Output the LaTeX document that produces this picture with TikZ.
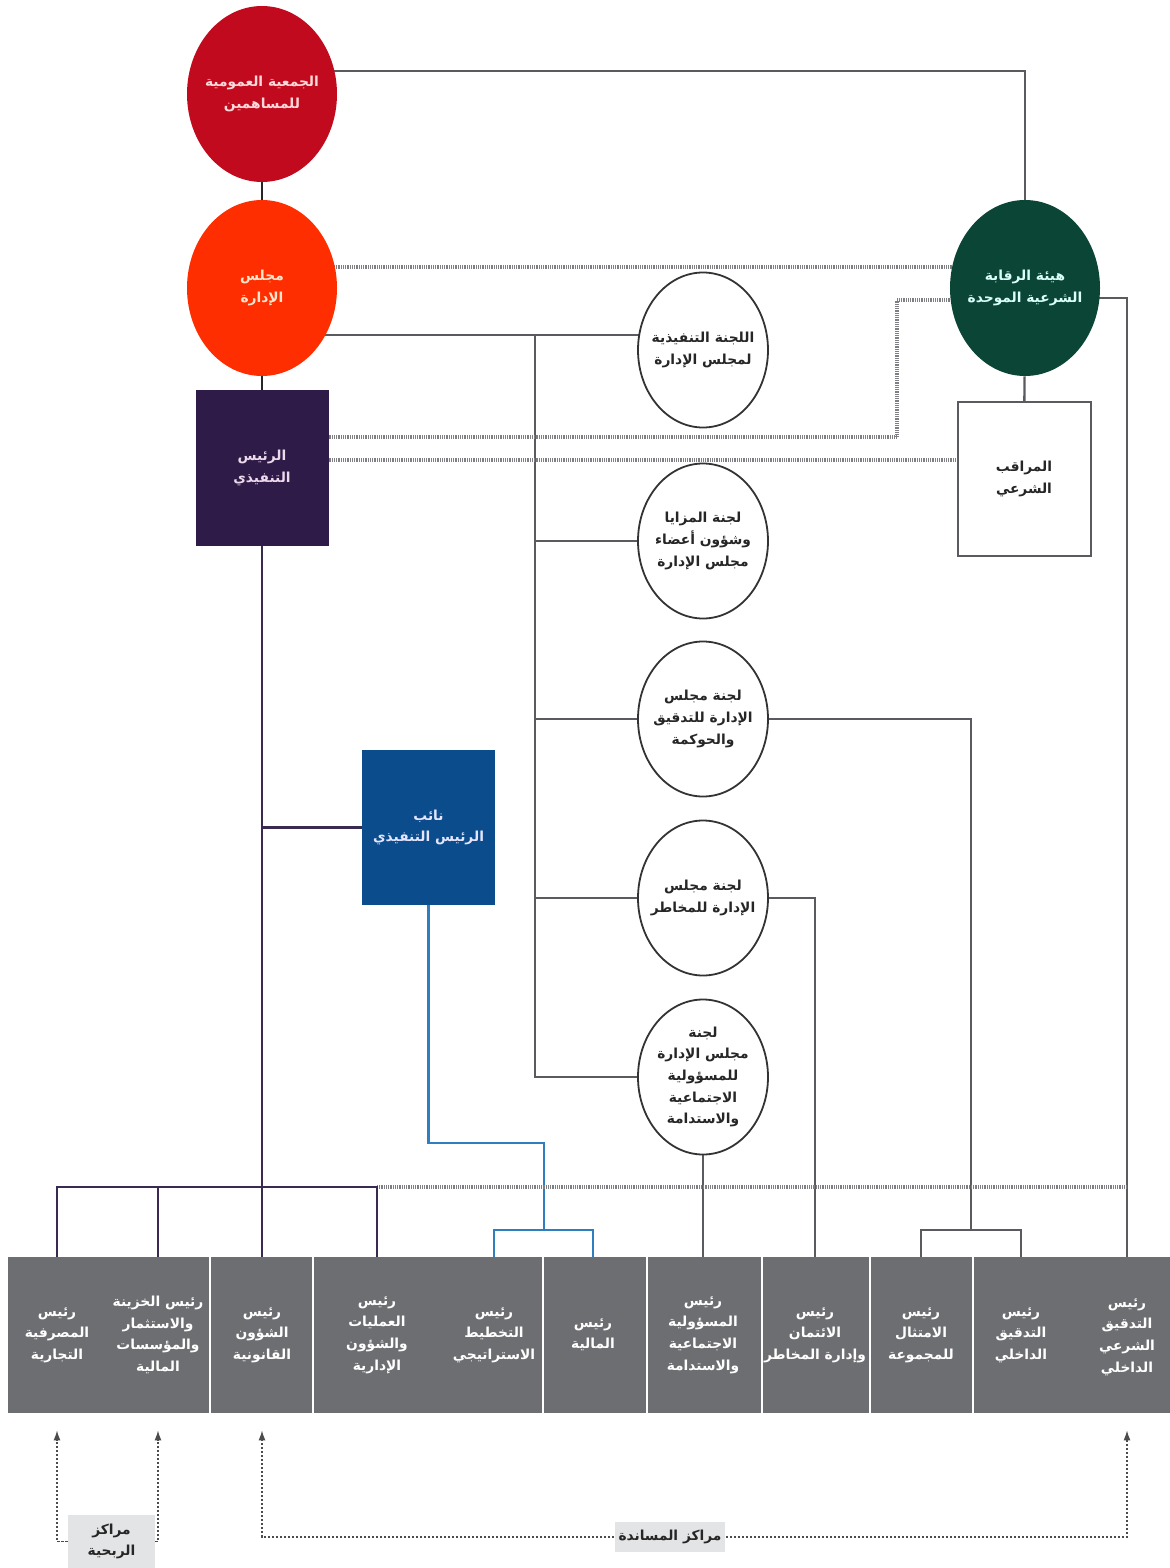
\documentclass[tikz,border=0pt]{standalone}
\usepackage{fontspec}
\newfontfamily\arabicfont[Script=Arabic]{DejaVu Sans}
\TeXXeTstate=1
\usetikzlibrary{shapes.geometric,arrows.meta,backgrounds}
\newcommand\artext[1]{\beginR #1\endR}
\definecolor{gared}{HTML}{C10A1E}
\definecolor{bdred}{HTML}{FF2E00}
\definecolor{ceopurple}{HTML}{2E1B47}
\definecolor{shgreen}{HTML}{0B4535}
\definecolor{depblue}{HTML}{0A4C8C}
\definecolor{boxgray}{HTML}{6D6E71}
\definecolor{linegray}{HTML}{5A5B5E}
\definecolor{dotgray}{HTML}{7E7F82}
\definecolor{lnpurple}{HTML}{3A2A52}
\definecolor{lnblue}{HTML}{2F7FC0}
\definecolor{lblgray}{HTML}{E3E4E5}
\begin{document}
\begin{tikzpicture}[x=0.5pt,y=-0.5pt,
  arfont/.style={font=\arabicfont\bfseries\fontsize{6.9}{10.8}\selectfont, align=center},
  bigel/.style={arfont, ellipse, inner sep=-9pt, minimum width=75pt, minimum height=88pt},
  sqbox/.style={arfont, rectangle, inner sep=0pt, minimum width=66.5pt, minimum height=78pt},
  com/.style={arfont, ellipse, inner sep=-9pt, draw=black!80, line width=0.9pt, fill=white, text=black!85, minimum width=65pt, minimum height=77.5pt},
  blab/.style={arfont, text=white, inner sep=0pt},
  clab/.style={arfont, text=black!85, fill=lblgray, inner sep=2pt},
  gl/.style={draw=linegray, line width=1.2pt},
  pl/.style={draw=lnpurple, line width=1.1pt},
  bl/.style={draw=lnblue, line width=1.1pt},
  dk/.style={draw=black!85, line width=1.2pt},
  dt/.style={draw=dotgray, line width=1.6pt, dash pattern=on 0.5pt off 0.4pt},
  arr/.style={draw=black!70, line width=0.6pt, dash pattern=on 1.2pt off 0.8pt, -{Latex[length=5pt,width=3.5pt]}}
]
\useasboundingbox (0,0) rectangle (1170,1568);

% top nodes
\node[bigel, fill=gared, text=red!15!white] (ga) at (262,94) {\artext{الجمعية العمومية}\\\artext{للمساهمين}};
\node[bigel, fill=bdred, text=orange!20!white] (board) at (262,288) {\artext{مجلس}\\\artext{الإدارة}};
\node[sqbox, fill=ceopurple, text=violet!15!white] (ceo) at (262,468) {\artext{الرئيس}\\\artext{التنفيذي}};
\node[bigel, fill=shgreen, text=green!10!cyan!15!white] (sharia) at (1025,288) {\artext{هيئة الرقابة}\\\artext{الشرعية الموحدة}};
\node[sqbox, draw=linegray, line width=1pt, fill=white, text=black!85, minimum height=77pt] (shc) at (1024,479) {\artext{المراقب}\\\artext{الشرعي}};

% committees
\node[com] (c1) at (703,350) {\artext{اللجنة التنفيذية}\\\artext{لمجلس الإدارة}};
\node[com] (c2) at (703,541) {\artext{لجنة المزايا}\\\artext{وشؤون أعضاء}\\\artext{مجلس الإدارة}};
\node[com] (c3) at (703,719) {\artext{لجنة مجلس}\\\artext{الإدارة للتدقيق}\\\artext{والحوكمة}};
\node[com] (c4) at (703,898) {\artext{لجنة مجلس}\\\artext{الإدارة للمخاطر}};
\node[com] (c5) at (703,1077) {\artext{لجنة}\\\artext{مجلس الإدارة}\\\artext{للمسؤولية}\\\artext{الاجتماعية}\\\artext{والاستدامة}};

% deputy
\node[sqbox, fill=depblue, text=blue!10!white, minimum width=66.5pt, minimum height=77.5pt] (dep) at (428.5,827.5) {\artext{نائب}\\\artext{الرئيس التنفيذي}};

% bottom band
\node[inner sep=0pt, minimum width=581pt, minimum height=78pt, fill=boxgray] (band) at (589,1335) {};
\foreach \sx in {210,313,543,647,762,870,973}
  \draw[white, line width=1.3pt] (\sx,1257) -- (\sx,1413);

\node[blab] (b1) at (57,1335) {\artext{رئيس}\\\artext{المصرفية}\\\artext{التجارية}};
\node[blab] (b2) at (158,1335) {\artext{رئيس الخزينة}\\\artext{والاستثمار}\\\artext{والمؤسسات}\\\artext{المالية}};
\node[blab] (b3) at (262,1335) {\artext{رئيس}\\\artext{الشؤون}\\\artext{القانونية}};
\node[blab] (b4) at (377,1335) {\artext{رئيس}\\\artext{العمليات}\\\artext{والشؤون}\\\artext{الإدارية}};
\node[blab] (b5) at (494,1335) {\artext{رئيس}\\\artext{التخطيط}\\\artext{الاستراتيجي}};
\node[blab] (b6) at (593,1335) {\artext{رئيس}\\\artext{المالية}};
\node[blab] (b7) at (703,1335) {\artext{رئيس}\\\artext{المسؤولية}\\\artext{الاجتماعية}\\\artext{والاستدامة}};
\node[blab] (b8) at (815,1335) {\artext{رئيس}\\\artext{الائتمان}\\\artext{وإدارة المخاطر}};
\node[blab] (b9) at (921,1335) {\artext{رئيس}\\\artext{الامتثال}\\\artext{للمجموعة}};
\node[blab] (b10) at (1021,1335) {\artext{رئيس}\\\artext{التدقيق}\\\artext{الداخلي}};
\node[blab] (b11) at (1127,1337) {\artext{رئيس}\\\artext{التدقيق}\\\artext{الشرعي}\\\artext{الداخلي}};

% bottom labels
\node[clab, minimum width=43.5pt, minimum height=26.5pt] (prof) at (111.5,1541.5) {\artext{مراكز}\\\artext{الربحية}};
\node[clab, minimum width=55pt, minimum height=15pt] (supp) at (670,1537) {\artext{مراكز المساندة}};

\coordinate (spx) at (535,0);
\coordinate (dtx) at (897,0);
\coordinate (tb) at (0,1187);
\coordinate (brR) at (971,1230);
\coordinate (brL) at (544,1230);
\coordinate (dj) at (544,1143);
\coordinate (ab) at ([yshift=-8.5pt]band.south);

\begin{scope}[on background layer]
  \draw[dk] (ga) -- (board);
  \draw[dk] (board) -- (ceo);
  \draw[pl] (ceo) -- (b3 |- band.north);
  \draw[gl] ([yshift=11.5pt]ga.center) -| (sharia);
  \draw[dt] ([yshift=10.5pt]board.center) -- ([yshift=10.5pt]sharia.center);
  \draw[gl] ([yshift=-23.5pt]board.center) coordinate (bl) -- (bl -| c1.center);
  \draw[gl] (bl -| spx) |- (c5);
  \draw[gl] (spx |- c2) -- (c2);
  \draw[gl] (spx |- c3) -- (c3);
  \draw[gl] (spx |- c4) -- (c4);
  \draw[gl] (c3) -| (brR);
  \draw[gl] (b9 |- band.north) |- (brR) -| (b10 |- band.north);
  \draw[gl] (c4) -| (b8 |- band.north);
  \draw[gl] (c5) -- (b7 |- band.north);
  \draw[gl] ([yshift=-5pt]sharia.center) -| (b11 |- band.north);
  \draw[gl] (sharia) -- (shc);
  \draw[dt] ([yshift=15.5pt]ceo.center) coordinate (q1) -- (q1 -| dtx) |- ([yshift=-6pt]sharia.center);
  \draw[dt] ([yshift=4pt]ceo.center) coordinate (q2) -- (q2 -| shc.center);
  \draw[pl] (ceo |- dep) -- (dep);
  \draw[bl] (dep) |- (dj) -- (brL);
  \draw[bl] (b5 |- band.north) |- (brL) -| (b6 |- band.north);
  \draw[dt] (b4 |- tb) -- (b11 |- tb);
  \draw[pl] (b1 |- band.north) |- (b4 |- tb) -- (b4 |- band.north);
  \draw[pl] (b2 |- tb) -- (b2 |- band.north);
\end{scope}

\draw[arr] (prof.west) -| (b1 |- ab);
\draw[arr] (prof.east) -| (b2 |- ab);
\draw[arr] (supp.west) -| (b3 |- ab);
\draw[arr] (supp.east) -| (b11 |- ab);
\end{tikzpicture}
\end{document}
